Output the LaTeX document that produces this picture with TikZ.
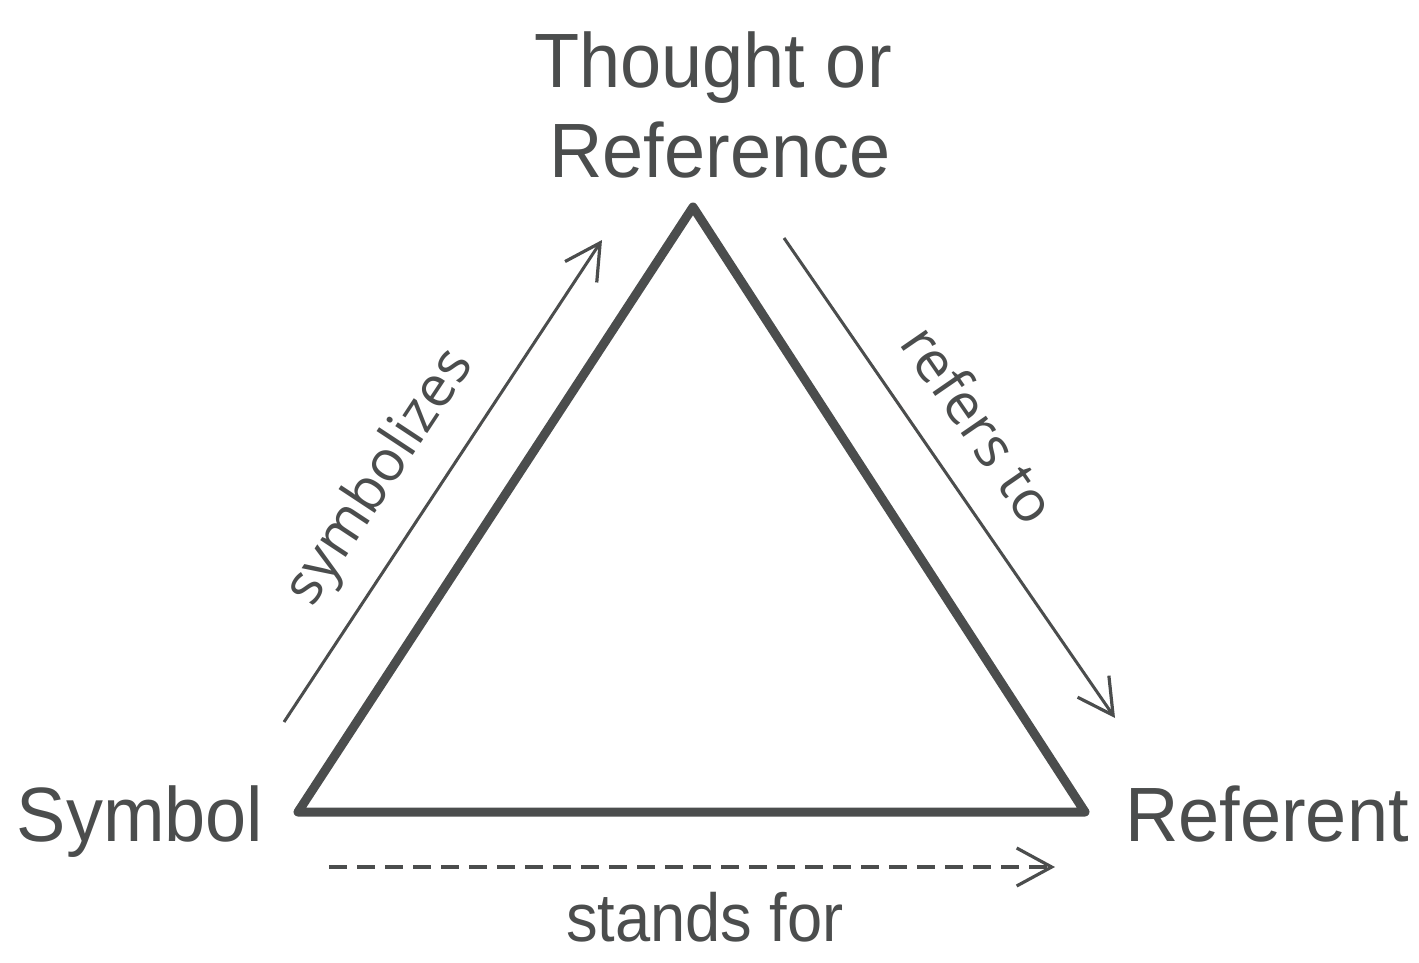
\documentclass[tikz,border=0pt]{standalone}
\usepackage{fontspec}
\setmainfont{Liberation Sans}
\newfontfamily\labelfont{Open Sans}
\usetikzlibrary{arrows.meta}
\definecolor{ink}{HTML}{4B4D4D}
\begin{document}
\begin{tikzpicture}[x=1pt,y=-1pt,
  bigtext/.style={text=ink, font=\fontsize{77}{89}\selectfont, inner sep=0pt, align=center, xscale=0.96},
  smalltext/.style={text=ink, font=\labelfont\fontsize{57}{60}\selectfont, inner sep=0pt, text depth=0pt},
  tri/.style={draw=ink, line width=9pt, line join=round},
  rel/.style={draw=ink, line width=3pt, -{Straight Barb[length=35pt,width=38pt,line width=3.2pt]}},
  dashrel/.style={rel, line width=3.4pt, dash pattern=on 18pt off 10pt}]
\useasboundingbox (0,0) rectangle (1419,963);
% vertices
\coordinate (T) at (693,207);
\coordinate (L) at (298,812);
\coordinate (R) at (1085,812);
\draw[tri] (T) -- (R) -- (L) -- cycle;
% labels
\node[bigtext, anchor=base] (thought) at (713,88) {Thought or};
\node[bigtext, anchor=base] (reference) at (720,177) {Reference};
\node[bigtext, anchor=base] (symbol) at (140,841) {Symbol};
\node[bigtext, anchor=base] (referent) at (1267,841) {Referent};
% arrows
\coordinate (s1) at (284,722);
\coordinate (s2) at (602,240);
\coordinate (r1) at (784,238);
\coordinate (r2) at (1115,718);
\coordinate (d1) at (329,867);
\coordinate (d2) at (1055,867);
\draw[rel] (s1) -- node[smalltext, pos=0.445, sloped, above=37pt] (symb) {symbolizes} (s2);
\draw[rel] (r1) -- node[smalltext, pos=0.453, sloped, above=33pt] (refers) {refers to} (r2);
\draw[dashrel] (d1) -- (d2);
\node[text=ink, font=\fontsize{68}{70}\selectfont, inner sep=0pt, anchor=base, xscale=0.93] (stands) at (705,941) {stands for};
\end{tikzpicture}
\end{document}
